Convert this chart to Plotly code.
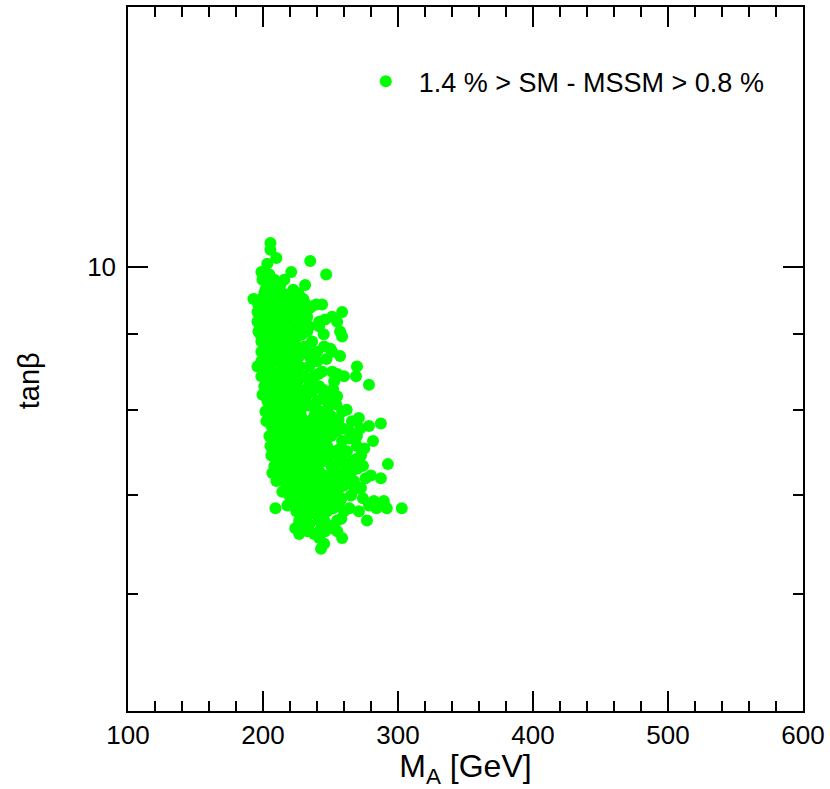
import plotly.graph_objects as go

# Data (M_A in GeV, tan beta)
ma = [
    205.5, 205.5, 209.9, 235.0, 203.2,
    198.8, 220.9,
    204.7, 246.8,
    199.6, 208.4, 215.8,
    206.2, 212.8, 231.2,
    210.6, 222.4, 201.8,
    218.0, 226.8, 204.7,
    201.0, 214.0, 226.0,
    192.9, 198.8, 209.2, 229.8,
    203.2, 215.0, 223.9, 230.5,
    196.6, 207.7, 219.5, 239.4, 243.8,
    200.0, 211.0, 222.0, 236.0,
    201.0, 213.6, 226.8, 234.2,
    195.9, 206.2, 219.5, 258.6,
    201.8, 212.1, 225.4, 232.7, 251.2,
    199.0, 209.0, 218.0, 229.0, 246.0,
    195.9, 204.7, 217.3, 221.7, 241.6, 254.9,
    200.3, 210.6, 226.8, 234.2, 241.6,
    196.6, 206.2, 215.8, 222.4, 232.7, 257.1,
    198.0, 208.0, 219.0, 229.0, 245.0,
    201.8, 212.1, 225.4, 258.6,
    198.8, 208.4, 218.0, 236.4,
    204.7, 215.0, 223.9, 230.5, 245.3,
    201.0, 211.0, 221.0, 234.0, 250.0,
    198.8, 210.6, 220.9, 240.1, 251.2,
    203.2, 215.8, 226.8, 234.2, 257.1,
    203.0, 213.0, 224.0, 237.0, 247.0,
    198.8, 209.2, 221.7, 240.1,
    195.9, 204.7, 215.8, 226.8, 234.2, 269.6,
    201.8, 212.1, 222.4, 243.8, 251.2,
    202.0, 214.0, 224.0, 241.0, 255.0,
    198.8, 208.4, 218.0, 230.5, 237.9, 260.0, 268.9,
    204.7, 214.3, 225.4, 234.2, 252.7,
    278.5,
    201.0, 210.6, 220.9, 241.6,
    203.0, 213.0, 225.0, 232.0, 244.0, 252.0,
    206.2, 216.5, 228.3, 236.4, 247.5,
    199.6,
    210.6, 221.7, 232.0, 254.9,
    206.0, 218.0, 229.0, 244.0, 250.0,
    203.2, 215.8, 225.4, 240.1, 247.5,
    254.2,
    208.4, 219.5, 230.5, 234.9,
    206.0, 216.0, 228.0, 239.0, 248.0, 262.0,
    201.8, 213.6, 223.9, 243.0, 258.6,
    207.7, 218.0, 228.3, 237.9, 250.5,
    271.0,
    204.0, 217.0, 227.0, 240.0, 256.0,
    202.5, 212.1, 223.2, 234.2, 245.3, 265.9,
    287.3,
    206.2, 217.3, 228.3, 240.1, 252.7, 278.5,
    209.0, 220.0, 237.0, 249.0, 259.0, 272.0,
    212.1, 221.7, 232.7, 245.3, 254.9, 263.7,
    204.7, 216.5, 226.8, 237.9, 250.5, 269.6,
    207.0, 214.0, 225.0, 234.0, 246.0, 264.0,
    209.2, 220.9, 231.2, 241.6, 258.6, 281.5,
    205.5, 215.0, 225.4, 236.4, 247.5, 269.6,
    210.0, 219.0, 232.0, 245.0, 257.0, 275.0,
    212.1, 220.9, 230.5, 241.6, 253.4, 262.2,
    206.2, 218.0, 226.8, 237.9, 249.0, 272.6,
    213.0, 226.0, 236.0, 247.0, 258.0, 269.0,
    210.6, 222.4, 232.7, 243.8, 256.3, 265.9,
    292.5,
    208.4, 216.5, 226.8, 238.6, 250.5, 274.1,
    211.0, 224.0, 236.0, 252.0, 262.0, 270.0,
    219.5, 230.5, 241.6, 260.0, 265.9,
    206.9,
    214.3, 224.7, 234.9, 247.5, 256.3, 279.9,
    215.0, 228.0, 240.0, 250.0, 262.0, 276.0,
    287.3,
    209.9, 220.9, 231.2, 241.6, 252.7, 267.4,
    217.3, 226.8, 237.9, 249.0, 260.0,
    218.0, 230.0, 242.0, 256.0, 268.0,
    272.6,
    214.3, 222.4, 232.7, 243.8, 254.9,
    219.5, 229.1, 240.1, 250.5, 265.2,
    222.0, 233.0, 245.0, 258.0, 274.0,
    225.4, 234.9, 246.8, 257.1, 282.2, 289.5,
    218.0, 230.5, 241.6, 252.7, 278.5,
    209.2, 291.7, 302.8,
    227.0, 238.0, 252.0, 264.0, 284.0,
    224.7, 234.9, 247.5, 260.0, 271.0,
    229.8, 240.1,
    232.0, 245.0, 258.0,
    226.8, 241.6, 254.9, 277.0,
    234.2, 247.5,
    223.9, 230.5, 243.0, 250.5,
    233.0, 246.0, 255.0,
    226.8, 237.9,
    241.6, 258.6,
    245.3,
    243.0,
]

tanb = [
    10.38, 10.27, 10.14, 10.09, 10.05,
    9.92, 9.92,
    9.88, 9.88,
    9.80, 9.80, 9.80,
    9.72, 9.72, 9.72,
    9.65, 9.65, 9.65,
    9.57, 9.57, 9.57,
    9.60, 9.60, 9.60,
    9.51, 9.51, 9.51, 9.51,
    9.47, 9.47, 9.47, 9.47,
    9.43, 9.43, 9.43, 9.43, 9.43,
    9.40, 9.40, 9.40, 9.40,
    9.37, 9.37, 9.37, 9.37,
    9.32, 9.32, 9.32, 9.32,
    9.25, 9.25, 9.25, 9.25, 9.25,
    9.21, 9.21, 9.21, 9.21, 9.21,
    9.18, 9.18, 9.18, 9.18, 9.18, 9.18,
    9.11, 9.11, 9.11, 9.11, 9.11,
    9.04, 9.04, 9.04, 9.04, 9.04, 9.04,
    9.00, 9.00, 9.00, 9.00, 9.00,
    8.97, 8.97, 8.97, 8.97,
    8.90, 8.90, 8.90, 8.90,
    8.83, 8.83, 8.83, 8.83, 8.83,
    8.80, 8.80, 8.80, 8.80, 8.80,
    8.76, 8.76, 8.76, 8.76, 8.76,
    8.70, 8.70, 8.70, 8.70, 8.70,
    8.66, 8.66, 8.66, 8.66, 8.66,
    8.63, 8.63, 8.63, 8.63,
    8.56, 8.56, 8.56, 8.56, 8.56, 8.56,
    8.49, 8.49, 8.49, 8.49, 8.49,
    8.46, 8.46, 8.46, 8.46, 8.46,
    8.43, 8.43, 8.43, 8.43, 8.43, 8.43, 8.43,
    8.36, 8.36, 8.36, 8.36, 8.36,
    8.32,
    8.30, 8.30, 8.30, 8.30,
    8.26, 8.26, 8.26, 8.26, 8.26, 8.26,
    8.23, 8.23, 8.23, 8.23, 8.23,
    8.19,
    8.17, 8.17, 8.17, 8.17,
    8.14, 8.14, 8.14, 8.14, 8.14,
    8.11, 8.11, 8.11, 8.11, 8.11,
    8.07,
    8.05, 8.05, 8.05, 8.05,
    8.00, 8.00, 8.00, 8.00, 8.00, 8.00,
    7.98, 7.98, 7.98, 7.98, 7.98,
    7.92, 7.92, 7.92, 7.92, 7.92,
    7.90,
    7.88, 7.88, 7.88, 7.88, 7.88,
    7.86, 7.86, 7.86, 7.86, 7.86, 7.86,
    7.83,
    7.80, 7.80, 7.80, 7.80, 7.80, 7.80,
    7.77, 7.77, 7.77, 7.77, 7.77, 7.77,
    7.74, 7.74, 7.74, 7.74, 7.74, 7.74,
    7.68, 7.68, 7.68, 7.68, 7.68, 7.68,
    7.65, 7.65, 7.65, 7.65, 7.65, 7.65,
    7.62, 7.62, 7.62, 7.62, 7.62, 7.62,
    7.56, 7.56, 7.56, 7.56, 7.56, 7.56,
    7.53, 7.53, 7.53, 7.53, 7.53, 7.53,
    7.50, 7.50, 7.50, 7.50, 7.50, 7.50,
    7.45, 7.45, 7.45, 7.45, 7.45, 7.45,
    7.41, 7.41, 7.41, 7.41, 7.41, 7.41,
    7.38, 7.38, 7.38, 7.38, 7.38, 7.38,
    7.35,
    7.33, 7.33, 7.33, 7.33, 7.33, 7.33,
    7.30, 7.30, 7.30, 7.30, 7.30, 7.30,
    7.27, 7.27, 7.27, 7.27, 7.27,
    7.25,
    7.22, 7.22, 7.22, 7.22, 7.22, 7.22,
    7.19, 7.19, 7.19, 7.19, 7.19, 7.19,
    7.19,
    7.16, 7.16, 7.16, 7.16, 7.16, 7.16,
    7.11, 7.11, 7.11, 7.11, 7.11,
    7.07, 7.07, 7.07, 7.07, 7.07,
    7.08,
    7.04, 7.04, 7.04, 7.04, 7.04,
    7.00, 7.00, 7.00, 7.00, 7.00,
    6.97, 6.97, 6.97, 6.97, 6.97,
    6.94, 6.94, 6.94, 6.94, 6.94, 6.94,
    6.89, 6.89, 6.89, 6.89, 6.89,
    6.86, 6.86, 6.86,
    6.86, 6.86, 6.86, 6.86, 6.86,
    6.83, 6.83, 6.83, 6.83, 6.83,
    6.78, 6.78,
    6.75, 6.75, 6.75,
    6.73, 6.73, 6.73, 6.73,
    6.69, 6.69,
    6.65, 6.65, 6.65, 6.65,
    6.62, 6.62, 6.62,
    6.59, 6.59,
    6.55, 6.55,
    6.49,
    6.44,
]

series_name = "1.4 % > SM - MSSM > 0.8 %"
x_ticks = [100, 200, 300, 400, 500, 600]
y_ticks = [10]
y_tick_labels = ["10"]
y_minor_ticks = [6, 7, 8, 9]

fig = go.Figure()
fig.add_trace(go.Scatter(
    x=ma, y=tanb, mode="markers", name=series_name,
    marker=dict(color="#00ff00", size=12, line=dict(width=0)),
))

axis_common = dict(
    showline=True, linecolor="black", linewidth=1.5, mirror="ticks",
    ticks="inside", tickcolor="black", tickwidth=1.5, ticklen=20,
    showgrid=False, zeroline=False,
    tickfont=dict(family="Liberation Sans, Arial, sans-serif", size=26, color="black"),
)

fig.update_layout(
    width=830, height=789,
    margin=dict(l=128, r=24, t=5, b=78),
    paper_bgcolor="white", plot_bgcolor="white",
    font=dict(family="Liberation Sans, Arial, sans-serif", color="black"),
    showlegend=True,
    legend=dict(x=0.333, y=0.894, xanchor="left", yanchor="middle",
                bgcolor="rgba(0,0,0,0)", borderwidth=0, itemwidth=56,
                font=dict(size=27, color="black")),
    annotations=[dict(
        text="tanβ", xref="paper", yref="paper", x=-0.1475, y=0.469,
        xanchor="center", yanchor="middle", textangle=-90, showarrow=False,
        font=dict(size=29, color="black"),
    )],
)

fig.update_xaxes(
    range=[100, 600], tickmode="array", tickvals=x_ticks,
    minor=dict(dtick=20, ticklen=10, tickwidth=1.5, tickcolor="black", ticks="inside", showgrid=False),
    title=dict(text="M<sub>A</sub> [GeV]", font=dict(size=32), standoff=6),
    **axis_common,
)
fig.update_yaxes(
    type="log", range=[0.69897, 1.17609], tickmode="array",
    tickvals=y_ticks, ticktext=y_tick_labels, ticklabelstandoff=5,
    minor=dict(tickmode="array", tickvals=y_minor_ticks, ticklen=10, tickwidth=1.5,
               tickcolor="black", ticks="inside", showgrid=False),
    **axis_common,
)

fig.write_html("out.html", config={"displayModeBar": False},
               post_script="document.body.style.margin='0px';")
